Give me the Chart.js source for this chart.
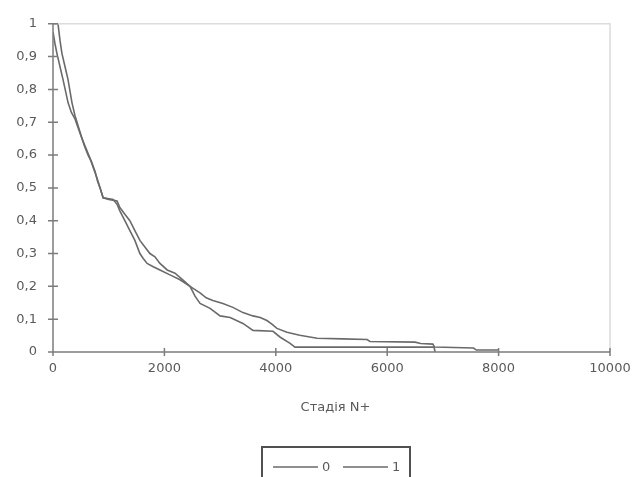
<!DOCTYPE html>
<html>
<head>
<meta charset="utf-8">
<script src="https://cdn.jsdelivr.net/npm/chart.js@4/dist/chart.umd.min.js"></script>
<style>
    body { margin: 0; background: #fff; }
</style>
</head>
<body>
<canvas id="myChart" width="643" height="477"></canvas>
<script>
// survival curves (path corners)
const seriesNames = ['0', '1'];

const time0 = [0, 90, 125, 160, 215, 270, 340, 395, 485, 560, 630, 690, 755, 800, 845, 900, 1000, 1150, 1200, 1290, 1380, 1470, 1560, 1650, 1740, 1830, 1920, 2050, 2190, 2330, 2460, 2550, 2640, 2750, 2870, 3050, 3230, 3410, 3590, 3720, 3840, 3930, 4020, 4200, 4430, 4740, 5200, 5640, 5690, 6500, 6600, 6820, 6850, 7550, 7600, 8000];
const surv0 = [1.0, 1.0, 0.95, 0.91, 0.87, 0.83, 0.76, 0.72, 0.67, 0.63, 0.60, 0.58, 0.55, 0.52, 0.50, 0.47, 0.465, 0.46, 0.44, 0.42, 0.40, 0.37, 0.34, 0.32, 0.30, 0.29, 0.27, 0.25, 0.24, 0.22, 0.20, 0.19, 0.18, 0.165, 0.157, 0.148, 0.136, 0.12, 0.11, 0.105, 0.096, 0.085, 0.072, 0.06, 0.051, 0.042, 0.04, 0.038, 0.032, 0.03, 0.026, 0.024, 0.015, 0.012, 0.006, 0.006];

const time1 = [0, 35, 70, 125, 180, 270, 330, 395, 520, 665, 790, 900, 1080, 1150, 1200, 1290, 1380, 1470, 1560, 1620, 1690, 1800, 1920, 2100, 2280, 2460, 2550, 2640, 2820, 3000, 3180, 3410, 3590, 3950, 4080, 4250, 4345, 6840, 6860];
const surv1 = [0.975, 0.94, 0.91, 0.87, 0.83, 0.76, 0.73, 0.71, 0.65, 0.59, 0.53, 0.47, 0.465, 0.45, 0.43, 0.40, 0.37, 0.34, 0.30, 0.285, 0.27, 0.26, 0.25, 0.235, 0.22, 0.20, 0.17, 0.148, 0.133, 0.11, 0.105, 0.087, 0.066, 0.063, 0.045, 0.027, 0.015, 0.015, 0.0];

const xTicks = [0, 2000, 4000, 6000, 8000, 10000];
const yTicks = [0, 0.1, 0.2, 0.3, 0.4, 0.5, 0.6, 0.7, 0.8, 0.9, 1];
const xTitle = 'Стадія N+';

const textColor = '#5a5a5a';
const lineColor = '#6a6a6a';
const fontFamily = '"DejaVu Sans", "Liberation Sans", sans-serif';

function toPoints(xs, ys){
    return xs.map((x, i) => ({x: x, y: ys[i]}));
}

function fmt(v){
    const r = Math.round(v * 10) / 10;
    if (r === 0) return '0';
    if (r === 1) return '1';
    return r.toFixed(1).replace('.', ',');
}

// axes with crossing ticks, plot border, x title and boxed legend
const decorPlugin = {
    id: 'decor',
    afterDraw(chart){
        const ctx = chart.ctx;
        const xs = chart.scales.x;
        const ys = chart.scales.y;
        const area = chart.chartArea;
        ctx.save();

        ctx.strokeStyle = '#dcdcdc';
        ctx.lineWidth = 1.5;
        ctx.beginPath();
        ctx.moveTo(area.left, area.top);
        ctx.lineTo(area.right, area.top);
        ctx.lineTo(area.right, area.bottom);
        ctx.stroke();

        ctx.strokeStyle = '#7c7c7c';
        ctx.lineWidth = 1.5;
        const x0 = xs.getPixelForValue(0);
        const y0 = ys.getPixelForValue(0);
        ctx.beginPath();
        ctx.moveTo(x0, ys.getPixelForValue(1));
        ctx.lineTo(x0, y0);
        ctx.lineTo(xs.getPixelForValue(10000), y0);
        yTicks.forEach(v => {
            const p = ys.getPixelForValue(v);
            ctx.moveTo(x0 - 5, p);
            ctx.lineTo(x0 + 5, p);
        });
        xTicks.forEach(v => {
            const p = xs.getPixelForValue(v);
            ctx.moveTo(p, y0 - 4);
            ctx.lineTo(p, y0 + 4);
        });
        ctx.stroke();

        ctx.fillStyle = textColor;
        ctx.font = '13px ' + fontFamily;
        ctx.textAlign = 'center';
        ctx.textBaseline = 'middle';
        ctx.fillText(xTitle, (area.left + area.right) / 2 + 4, 408);

        // legend box
        const boxLeft = 262, boxTop = 447, boxRight = 410;
        ctx.strokeStyle = '#505050';
        ctx.lineWidth = 2;
        ctx.strokeRect(boxLeft, boxTop, boxRight - boxLeft, 60);
        let lx = 273;
        const ly = 467;
        chart.data.datasets.forEach(ds => {
            ctx.strokeStyle = ds.borderColor;
            ctx.lineWidth = 1.5;
            ctx.beginPath();
            ctx.moveTo(lx, ly);
            ctx.lineTo(lx + 45, ly);
            ctx.stroke();
            ctx.textAlign = 'left';
            ctx.fillStyle = textColor;
            ctx.fillText(ds.label, lx + 49, ly + 1);
            lx += 70;
        });
        ctx.restore();
    }
};

function createChart(){
    const ctx = document.getElementById('myChart').getContext('2d');
    const myChart = new Chart(ctx, {
        type: 'line',
        data: {
            datasets: [{
                label: seriesNames[0],
                data: toPoints(time0, surv0),
                borderColor: lineColor,
                borderWidth: 1.6,
                pointRadius: 0,
                tension: 0,
                fill: false
            }, {
                label: seriesNames[1],
                data: toPoints(time1, surv1),
                borderColor: lineColor,
                borderWidth: 1.6,
                pointRadius: 0,
                tension: 0,
                fill: false
            }]
        },
        options: {
            responsive: false,
            animation: false,
            layout: {
                padding: {top: 20, right: 33, left: 0, bottom: 0}
            },
            plugins: {
                legend: {display: false},
                tooltip: {enabled: false}
            },
            scales: {
                x: {
                    type: 'linear',
                    min: 0,
                    max: 10000,
                    afterFit(scale){ scale.height = 125; },
                    grid: {display: false, drawTicks: false},
                    border: {display: false},
                    ticks: {
                        stepSize: 2000,
                        padding: 9,
                        color: textColor,
                        maxRotation: 0,
                        font: {family: fontFamily, size: 13},
                        callback: (v) => String(v)
                    }
                },
                y: {
                    type: 'linear',
                    min: 0,
                    max: 1,
                    afterFit(scale){ scale.width = 53; },
                    grid: {display: false, drawTicks: false},
                    border: {display: false},
                    ticks: {
                        stepSize: 0.1,
                        padding: 16,
                        color: textColor,
                        font: {family: fontFamily, size: 13},
                        callback: (v) => fmt(v)
                    }
                }
            }
        },
        plugins: [decorPlugin]
    });
}

createChart();
</script>
</body>
</html>
